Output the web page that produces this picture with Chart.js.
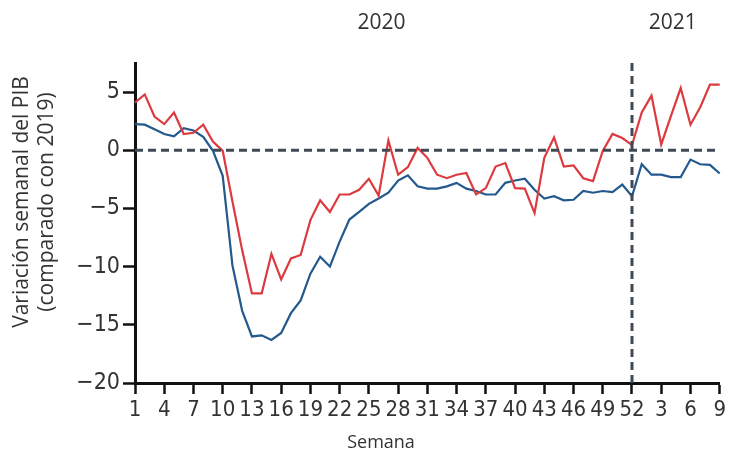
<!DOCTYPE html>
<html>
<head>
<meta charset="utf-8">
<script src="https://cdn.jsdelivr.net/npm/chart.js@4/dist/chart.umd.min.js"></script>
<style>
    html, body { margin: 0; padding: 0; background: #fff; }
    #wrap { width: 729px; height: 454px; }
</style>
</head>
<body>
<div id="wrap"><canvas id="gdpChart" width="729" height="454"></canvas></div>
<script>
// Weekly GDP variation vs 2019, weeks of 2020 then 2021
const weekLabels = [
    '1', '2', '3', '4', '5', '6', '7', '8', '9', '10',
    '11', '12', '13', '14', '15', '16', '17', '18', '19', '20',
    '21', '22', '23', '24', '25', '26', '27', '28', '29', '30',
    '31', '32', '33', '34', '35', '36', '37', '38', '39', '40',
    '41', '42', '43', '44', '45', '46', '47', '48', '49', '50',
    '51', '52',
    '1', '2', '3', '4', '5', '6', '7', '8', '9'
];
const yearLabels = ['2020', '2021'];
const yearStart = [0, 51];   // index where the dashed divider sits / year spans
const yTicks = [-20, -15, -10, -5, 0, 5];

const redSeries = [
    4.1, 4.8, 2.9, 2.25, 3.25, 1.4, 1.5, 2.2, 0.75, -0.05,
    -4.4, -8.6, -12.3, -12.3, -8.9, -11.1, -9.3, -9.0, -6.0, -4.3,
    -5.3, -3.8, -3.8, -3.4, -2.45, -3.9, 0.85, -2.1, -1.45, 0.2,
    -0.65, -2.1, -2.4, -2.1, -1.95, -3.8, -3.25, -1.4, -1.1, -3.25,
    -3.3, -5.4, -0.65, 1.1, -1.4, -1.3, -2.4, -2.65, -0.05, 1.4,
    1.05, 0.45,
    3.25, 4.7, 0.5, 2.95, 5.35, 2.2, 3.7, 5.65, 5.65
];
const blueSeries = [
    2.25, 2.2, 1.8, 1.4, 1.2, 1.9, 1.7, 1.15, -0.05, -2.2,
    -9.9, -13.8, -16.0, -15.9, -16.3, -15.7, -14.0, -12.9, -10.6, -9.15,
    -10.0, -7.85, -5.95, -5.3, -4.6, -4.15, -3.65, -2.6, -2.15, -3.1,
    -3.3, -3.3, -3.1, -2.8, -3.3, -3.5, -3.8, -3.8, -2.8, -2.6,
    -2.45, -3.4, -4.15, -3.95, -4.3, -4.25, -3.5, -3.65, -3.5, -3.6,
    -2.95, -3.95,
    -1.2, -2.1, -2.1, -2.3, -2.3, -0.8, -1.2, -1.25, -2.0
];

const TEXT = '#333333';
const NARROW = "'Liberation Sans Narrow', 'DejaVu Sans Condensed', sans-serif";
const SANS = "'Open Sans', 'Noto Sans', sans-serif";

// dashed reference lines + free text (year labels, axis titles)
const annotations = {
    id: 'annotations',
    afterDatasetsDraw(chart) {
        const { ctx, chartArea, scales } = chart;
        const x = scales.x, y = scales.y;
        ctx.save();
        ctx.strokeStyle = '#404a55';
        ctx.lineWidth = 3;
        ctx.setLineDash([8, 5]);
        const y0 = y.getPixelForValue(0);
        ctx.beginPath();
        ctx.moveTo(chartArea.left, y0);
        ctx.lineTo(chartArea.right, y0);
        ctx.stroke();
        const xd = x.getPixelForValue(yearStart[1]);
        ctx.beginPath();
        ctx.moveTo(xd, chartArea.top);
        ctx.lineTo(xd, chartArea.bottom);
        ctx.stroke();
        ctx.restore();
    },
    afterDraw(chart) {
        const { ctx, scales } = chart;
        const x = scales.x;
        ctx.save();
        ctx.fillStyle = TEXT;
        ctx.textAlign = 'center';
        ctx.textBaseline = 'middle';

        ctx.font = "21px " + SANS;
        const x0 = x.getPixelForValue(0);
        const x1 = x.getPixelForValue(yearStart[1]);
        const x2 = x.getPixelForValue(weekLabels.length - 1);
        ctx.fillText(yearLabels[0], (x0 + x1) / 2 - 2, 23);
        ctx.fillText(yearLabels[1], (x1 + x2) / 2 - 3, 23);

        ctx.font = "18px " + SANS;
        ctx.fillText('Semana', 381, 443);

        ctx.font = "21px " + SANS;
        ctx.translate(0, 202);
        ctx.rotate(-Math.PI / 2);
        ctx.fillText('Variación semanal del PIB', 0, 22);
        ctx.fillText('(comparado con 2019)', 0, 47);
        ctx.restore();
    }
};

const ctx = document.getElementById('gdpChart').getContext('2d');
new Chart(ctx, {
    type: 'line',
    data: {
        labels: weekLabels,
        datasets: [
            {
                label: 'Serie roja',
                data: redSeries,
                borderColor: '#dc3a3e',
                borderWidth: 2.2,
                pointRadius: 0,
                tension: 0,
                fill: false
            },
            {
                label: 'Serie azul',
                data: blueSeries,
                borderColor: '#23598c',
                borderWidth: 2.2,
                pointRadius: 0,
                tension: 0,
                fill: false
            }
        ]
    },
    options: {
        responsive: false,
        animation: false,
        devicePixelRatio: 1,
        layout: { padding: { left: 0, right: 8, top: 63, bottom: 0 } },
        plugins: {
            legend: { display: false },
            tooltip: { enabled: false }
        },
        scales: {
            x: {
                type: 'category',
                offset: false,
                afterBuildTicks: axis => {
                    axis.ticks = axis.ticks.filter(t => t.value % 3 === 0);
                },
                afterFit: axis => { axis.height = 71; },
                grid: {
                    drawOnChartArea: false,
                    drawTicks: true,
                    tickLength: 11,
                    tickColor: '#111',
                    tickWidth: 2.5
                },
                border: { display: true, color: '#111', width: 3 },
                ticks: {
                    autoSkip: false,
                    maxRotation: 0,
                    padding: 3,
                    color: TEXT,
                    font: { family: NARROW, size: 22 }
                }
            },
            y: {
                min: -20,
                max: 7.5,
                afterBuildTicks: axis => {
                    axis.ticks = yTicks.map(v => ({ value: v }));
                },
                afterFit: axis => { axis.width = 135; },
                grid: {
                    drawOnChartArea: false,
                    drawTicks: true,
                    tickLength: 12,
                    tickColor: '#111',
                    tickWidth: 2.5
                },
                border: { display: true, color: '#111', width: 3 },
                ticks: {
                    padding: 3,
                    color: TEXT,
                    font: { family: NARROW, size: 23 },
                    callback: v => (v < 0 ? '\u2212' + Math.abs(v) : String(v))
                }
            }
        }
    },
    plugins: [annotations]
});
</script>
</body>
</html>
